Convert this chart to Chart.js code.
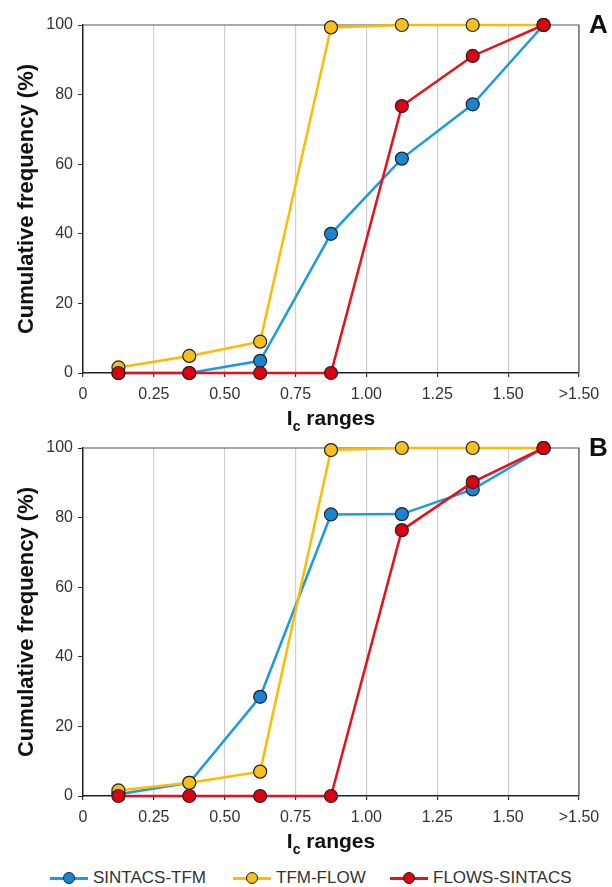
<!DOCTYPE html>
<html>
<head>
<meta charset="utf-8">
<script src="https://cdn.jsdelivr.net/npm/chart.js@4"></script>
<style>
  body { margin: 0; background: #fff; font-family: "Liberation Sans", Arial, sans-serif; }
  #wrap { position: relative; width: 612px; height: 887px; }
  .panel { position: absolute; left: 0; width: 612px; }
  #panelA { top: 0; height: 432px; }
  #panelB { top: 430px; height: 425px; }
  .leg { position: absolute; top: 868px; height: 20px; display: flex; align-items: center; font-size: 17px; color: #333; }
  .leg .mark { position: relative; width: 38px; height: 20px; margin-right: 5px; }
  .leg .mark .ln { position: absolute; left: 0; right: 0; top: 9px; height: 2.5px; }
  .leg .mark .dot { position: absolute; left: 13px; top: 4px; width: 10px; height: 10px; border-radius: 50%; border: 1.2px solid #222; }
</style>
</head>
<body>
<div id="wrap">
  <div class="panel" id="panelA"><canvas id="chartA" width="612" height="432"></canvas></div>
  <div class="panel" id="panelB"><canvas id="chartB" width="612" height="425"></canvas></div>

  <div class="leg" style="left:50px"><span class="mark"><span class="ln" style="background:#1b9be0"></span><span class="dot" style="background:#1a84d4"></span></span>SINTACS-TFM</div>
  <div class="leg" style="left:233px"><span class="mark"><span class="ln" style="background:#ffbb00"></span><span class="dot" style="background:#f7bf1e"></span></span>TFM-FLOW</div>
  <div class="leg" style="left:390px"><span class="mark"><span class="ln" style="background:#e8101c"></span><span class="dot" style="background:#de0010"></span></span>FLOWS-SINTACS</div>
</div>

<script>
// ===== Data =====
const rangeMid = [0.125, 0.375, 0.625, 0.875, 1.125, 1.375, 1.625];
const xTickLabels = ["0", "0.25", "0.50", "0.75", "1.00", "1.25", "1.50", ">1.50"];

// panel A
const sintacsTfmA = [0, 0, 3.5, 40, 61.6, 77.2, 100];
const tfmFlowA = [1.6, 4.9, 9.0, 99.3, 100, 100, 100];
const flowsSintacsA = [0, 0, 0, 0, 76.7, 91.1, 100];

// panel B
const sintacsTfmB = [0.5, 3.8, 28.5, 80.9, 81.0, 88.1, 100];
const tfmFlowB = [1.6, 3.8, 7.0, 99.4, 100, 100, 100];
const flowsSintacsB = [0, 0, 0, 0, 76.4, 90.2, 100];

const FONT = "'Liberation Sans', Arial, sans-serif";

// ===== Extra drawing: box, axis titles, panel letter =====
const decor = {
  id: "decor",
  beforeDatasetsDraw(chart) {
    const { ctx, chartArea: a } = chart;
    ctx.save();
    ctx.strokeStyle = "#555";
    ctx.lineWidth = 1.2;
    ctx.beginPath();
    ctx.moveTo(a.left, a.top);
    ctx.lineTo(a.right, a.top);
    ctx.lineTo(a.right, a.bottom);
    ctx.stroke();
    ctx.restore();
  },
  afterDraw(chart, args, opts) {
    const { ctx, chartArea: a } = chart;
    ctx.save();
    ctx.fillStyle = "#111";

    // y title
    ctx.save();
    ctx.translate(27, (a.top + a.bottom) / 2);
    ctx.rotate(-Math.PI / 2);
    ctx.font = "bold 22px " + FONT;
    ctx.textAlign = "center";
    ctx.textBaseline = "middle";
    ctx.fillText("Cumulative frequency (%)", 0, 0);
    ctx.restore();

    // x title: I_c ranges
    const big = "bold 21px " + FONT;
    const small = "bold 14px " + FONT;
    ctx.textBaseline = "alphabetic";
    ctx.textAlign = "left";
    ctx.font = big;
    const wI = ctx.measureText("I").width;
    const wR = ctx.measureText(" ranges").width;
    ctx.font = small;
    const wc = ctx.measureText("c").width;
    const total = wI + wc + wR;
    let x = (a.left + a.right) / 2 - total / 2;
    const base = a.bottom + 52;
    ctx.font = big;
    ctx.fillText("I", x, base);
    x += wI;
    ctx.font = small;
    ctx.fillText("c", x, base + 6);
    x += wc;
    ctx.font = big;
    ctx.fillText(" ranges", x, base);

    // panel letter
    ctx.font = "bold 26px " + FONT;
    ctx.fillText(opts.letter, 589, a.top + 8);
    ctx.restore();
  },
};

function ds(label, values, line, fill, order) {
  return {
    label,
    data: values.map((v, i) => ({ x: rangeMid[i], y: v })),
    borderColor: line,
    borderWidth: 2.5,
    pointBackgroundColor: fill,
    pointBorderColor: "#222",
    pointBorderWidth: 1.2,
    pointRadius: 6.5,
    tension: 0,
    clip: false,
    order,
  };
}

function makeChart(id, letter, padTop, blue, yellow, red) {
  return new Chart(document.getElementById(id), {
    type: "line",
    data: {
      datasets: [
        ds("SINTACS-TFM", blue, "#1b9be0", "#1a84d4", 3),
        ds("TFM-FLOW", yellow, "#ffbb00", "#f7bf1e", 2),
        ds("FLOWS-SINTACS", red, "#e8101c", "#de0010", 1),
      ],
    },
    options: {
      responsive: false,
      animation: false,
      events: [],
      layout: { padding: { top: padTop, right: 33, left: 0, bottom: 0 } },
      plugins: {
        legend: { display: false },
        tooltip: { enabled: false },
        decor: { letter },
      },
      scales: {
        x: {
          type: "linear",
          min: 0,
          max: 1.75,
          afterFit: (s) => { s.height = 59; },
          ticks: {
            stepSize: 0.25,
            padding: 8,
            color: "#333",
            font: { family: FONT, size: 16 },
            maxRotation: 0,
            autoSkip: false,
            callback: (v, i) => xTickLabels[i],
          },
          grid: {
            color: "#cfcfcf",
            lineWidth: 1.2,
            tickColor: "#333",
            tickLength: 4,
          },
          border: { display: true, color: "#222", width: 1.5 },
        },
        y: {
          min: 0,
          max: 100,
          afterFit: (s) => { s.width = 83; },
          ticks: {
            stepSize: 20,
            padding: 5,
            color: "#333",
            font: { family: FONT, size: 16 },
          },
          grid: {
            drawOnChartArea: false,
            tickColor: "#333",
            tickLength: 5,
          },
          border: { display: true, color: "#222", width: 1.5 },
        },
      },
    },
    plugins: [decor],
  });
}

makeChart("chartA", "A", 25, sintacsTfmA, tfmFlowA, flowsSintacsA);
makeChart("chartB", "B", 18, sintacsTfmB, tfmFlowB, flowsSintacsB);
</script>
</body>
</html>
